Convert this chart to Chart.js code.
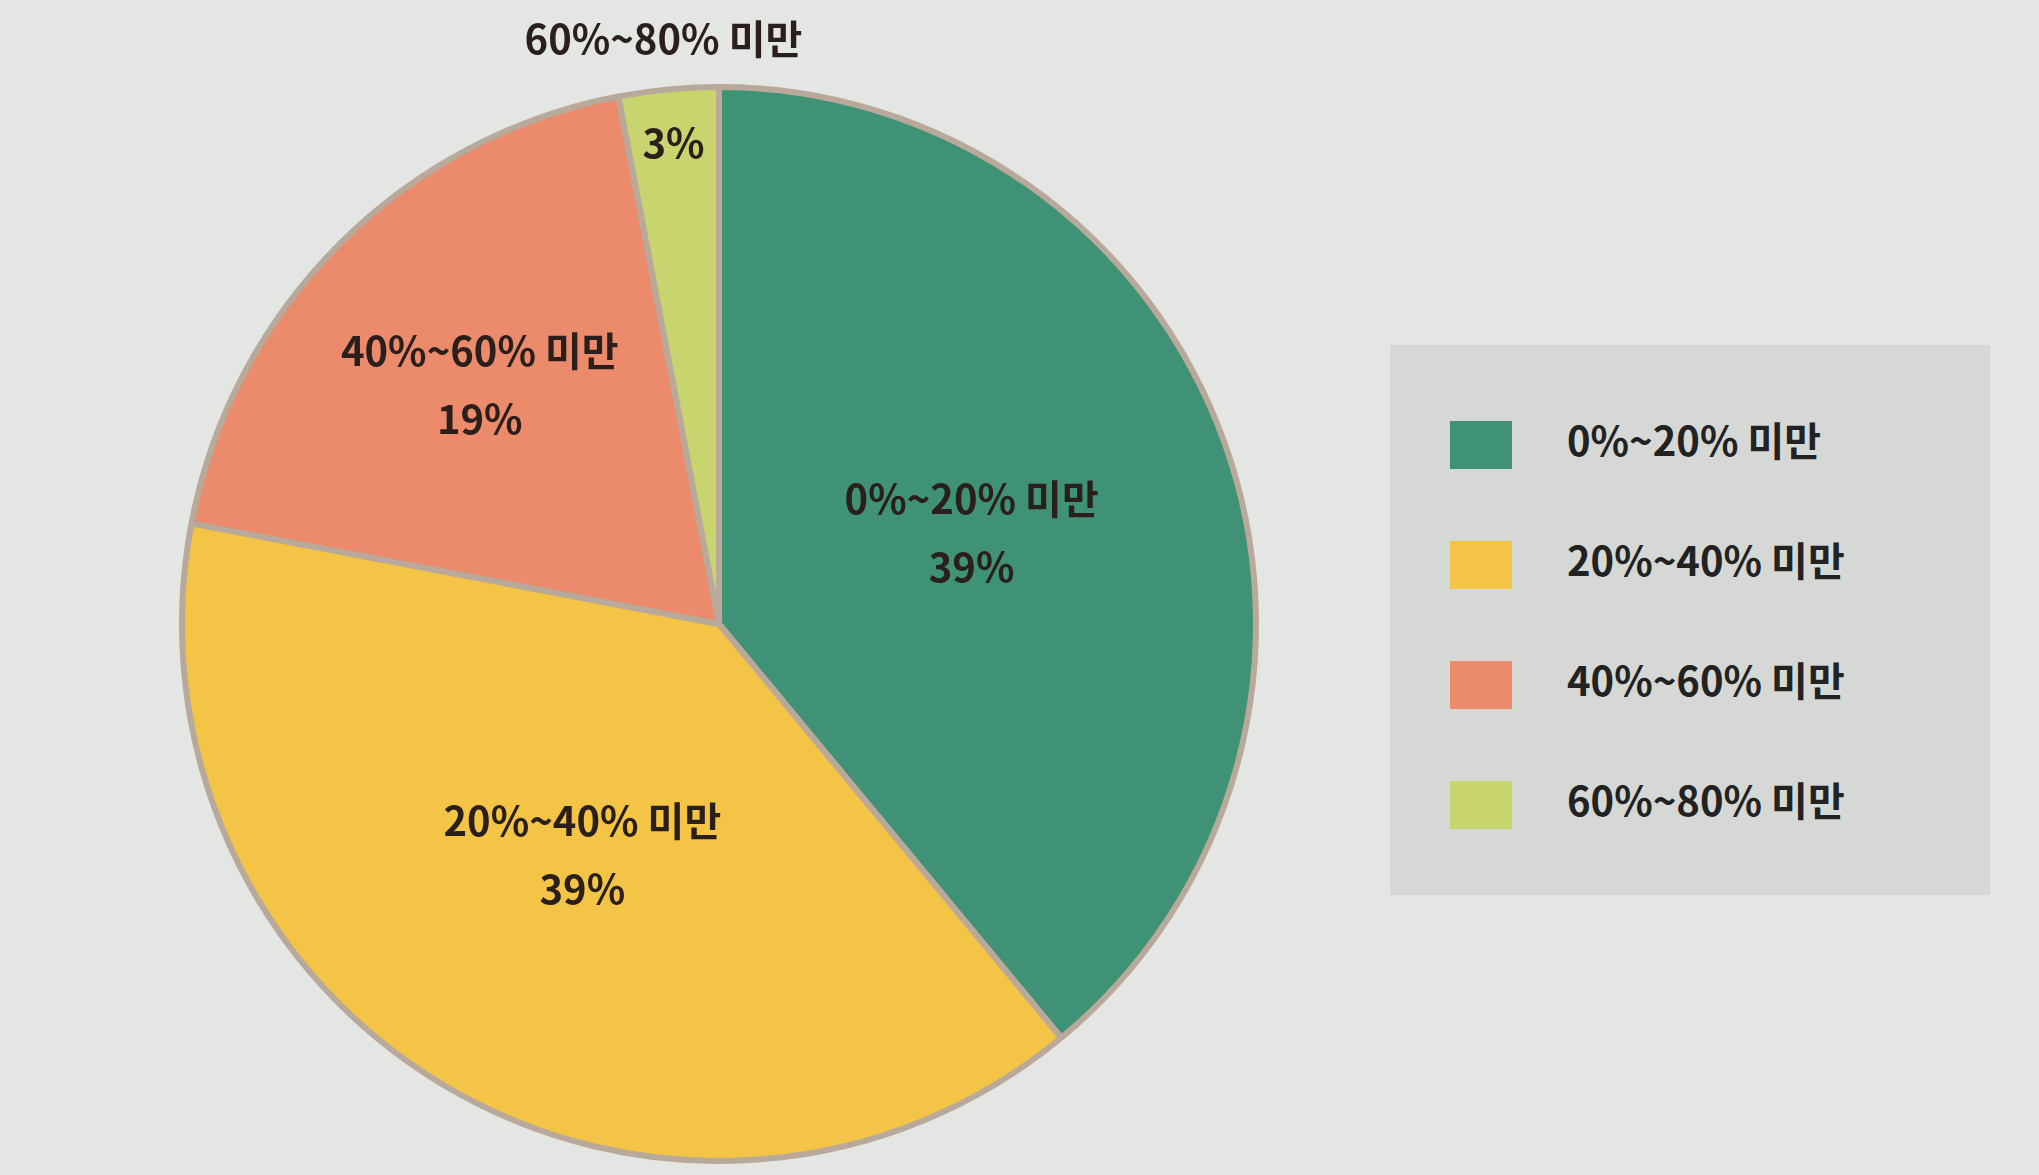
<!DOCTYPE html>
<html><head><meta charset="utf-8">
<script src="https://cdn.jsdelivr.net/npm/chart.js@4"></script>
<style>
body{margin:0;background:#e4e6e3;font-family:"Noto Sans CJK KR",sans-serif;}
#wrap{position:absolute;left:0;top:0;width:2039px;height:1175px;}
#legend{position:absolute;left:1390px;top:345px;width:600px;height:550px;background:#d6d8d6;}
.item{position:absolute;left:60px;font-weight:bold;font-size:40px;color:#222;}
.sw{display:inline-block;width:62px;height:48px;vertical-align:middle;margin-right:55px;}
</style></head><body>
<div id="wrap"><canvas id="c" width="2039" height="1175"></canvas></div>
<div id="legend"></div>
<script>
const labels = ['0%~20% 미만', '20%~40% 미만', '40%~60% 미만', '60%~80% 미만'];
const values = [39, 39, 19, 3];
const colors = ['#3f9276', '#f4c446', '#eb8b6c', '#c8d46e'];

const legend = document.getElementById('legend');
labels.forEach((l, i) => {
  const d = document.createElement('div');
  d.className = 'item';
  d.style.top = (65 + i * 120) + 'px';
  d.innerHTML = '<span class="sw" style="background:' + colors[i] + '"></span>' + l;
  legend.appendChild(d);
});

const sliceLabels = {
  id: 'sliceLabels',
  afterDatasetsDraw(chart) {
    const ctx = chart.ctx;
    const meta = chart.getDatasetMeta(0);
    ctx.save();
    ctx.fillStyle = '#2a1f1a';
    ctx.font = 'bold 40px "Noto Sans CJK KR"';
    ctx.textAlign = 'center';
    ctx.textBaseline = 'middle';
    meta.data.forEach((arc, i) => {
      const p = arc.getProps(['x', 'y', 'startAngle', 'endAngle', 'outerRadius']);
      const a = (p.startAngle + p.endAngle) / 2;
      if (i === 3) {
        ctx.fillText(values[i] + '%', p.x + Math.cos(a) * p.outerRadius * 0.9, p.y + Math.sin(a) * p.outerRadius * 0.9);
        ctx.fillText(labels[i], p.x + Math.cos(a) * p.outerRadius * 1.1, p.y - p.outerRadius * 1.09);
        return;
      }
      const f = i === 2 ? 0.63 : 0.5;
      const x = p.x + Math.cos(a) * p.outerRadius * f;
      const y = p.y + Math.sin(a) * p.outerRadius * f;
      ctx.fillText(labels[i], x, y - 34);
      ctx.fillText(values[i] + '%', x, y + 34);
    });
    ctx.restore();
  }
};

new Chart(document.getElementById('c'), {
  type: 'pie',
  data: {
    labels: labels,
    datasets: [{
      data: values,
      backgroundColor: colors,
      borderColor: '#b9a99b',
      borderWidth: 6
    }]
  },
  options: {
    responsive: false,
    animation: false,
    layout: { padding: { left: 179, right: 780, top: 84, bottom: 11 } },
    plugins: { legend: { display: false }, tooltip: { enabled: false } }
  },
  plugins: [sliceLabels]
});
</script>
</body></html>
